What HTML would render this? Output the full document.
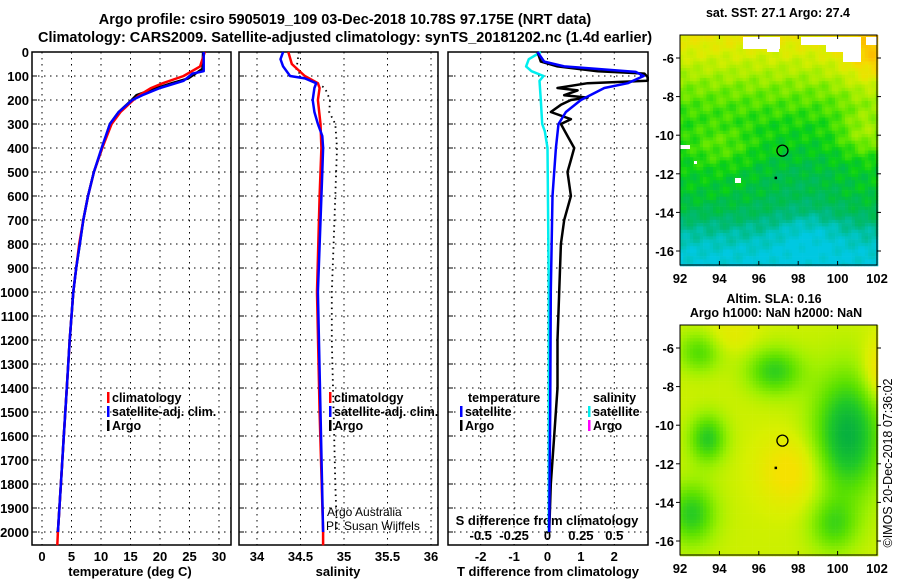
<!DOCTYPE html>
<html><head><meta charset="utf-8"><style>
body{margin:0;background:#fff;width:900px;height:580px;overflow:hidden}
svg{display:block;font-family:"Liberation Sans",sans-serif;font-weight:bold}
</style></head><body>
<svg id="c" width="900" height="580" viewBox="0 0 900 580">
<text x="345" y="24" font-size="14.5" text-anchor="middle">Argo profile: csiro 5905019_109 03-Dec-2018 10.78S 97.175E (NRT data)</text>
<text x="345" y="42" font-size="14.5" text-anchor="middle">Climatology: CARS2009. Satellite-adjusted climatology: synTS_20181202.nc (1.4d earlier)</text>
<g id="g"></g>
</svg>
<script>
// ---- data ----
const depthTicks=[0,100,200,300,400,500,600,700,800,900,1000,1100,1200,1300,1400,1500,1600,1700,1800,1900,2000];
const tempTicks=[0,5,10,15,20,25,30];
const salTicks=[34,34.5,35,35.5,36];
const salTickLabels=["34","34.5","35","35.5","36"];
const tdTicks=[-2,-1,0,1,2];
const sdTicks=[-0.5,-0.25,0,0.25,0.5];
const sdTickLabels=["-0.5","-0.25","0","0.25","0.5"];
const tClimDepth=[0,60,100,130,150,180,200,250,300,400,500,600,700,800,900,1000,1200,1400,1600,1800,2000,2055];
const tClim=[27.6,26.8,24,20.5,18.5,16.5,15.5,13.3,11.8,10.2,8.8,7.8,7,6.3,5.8,5.3,4.7,4.2,3.7,3.2,2.7,2.6];
const tSatDepth=[0,80,90,120,150,180,200,250,300,400,500,600,700,800,900,1000,1200,1400,1600,1800,2000];
const tSat=[27.4,27.4,25.5,24,20,17,15.3,13,11.5,10.1,8.8,7.8,7,6.4,5.8,5.3,4.7,4.2,3.7,3.2,2.7];
const tArgoDepth=[0,70,90,110,130,150,180,200,250,300,400,500,600,700,800,900,1000,1200,1400,1600,1800,2000];
const tArgo=[27.3,27.2,26,24.8,22,19.5,16,15.2,13,11.5,10.2,8.8,7.8,7,6.4,5.8,5.3,4.7,4.2,3.7,3.2,2.7];
const sClimDepth=[0,50,100,130,150,200,300,400,600,1000,1500,2000,2055];
const sClim=[34.36,34.4,34.55,34.7,34.72,34.7,34.73,34.74,34.72,34.69,34.72,34.76,34.76];
const sSatDepth=[0,30,60,100,110,130,150,200,250,300,350,400,500,1000,1500,2000];
const sSat=[34.3,34.27,34.3,34.38,34.55,34.68,34.66,34.64,34.66,34.7,34.75,34.76,34.75,34.7,34.73,34.76];
const sArgoDepth=[0,80,110,150,200,250,300,400,600,800,1000,1200,1500,1800,2000];
const sArgo=[34.48,34.45,34.6,34.78,34.84,34.83,34.9,34.92,34.9,34.88,34.86,34.86,34.88,34.9,34.92];
const dtSatDepth=[0,40,60,83,100,130,150,200,250,300,400,600,1000,1500,2000];
const dtSat=[-0.3,-0.1,0.5,2.64,2.88,2.4,1.7,1.0,0.55,0.33,0.25,0.15,0.1,0.08,0.05];
const dtArgoDepth=[0,40,60,80,90,105,120,130,150,160,180,190,200,220,250,280,300,350,400,450,500,600,700,800,1000,1200,1400,1600,1800,2000];
const dtArgo=[-0.3,-0.2,0.3,1.5,2.9,3.0,3.0,1.2,0.3,0.9,0.5,1.2,0.7,0.4,0.1,0.7,0.4,0.6,0.8,0.7,0.6,0.7,0.5,0.4,0.35,0.3,0.3,0.2,0.1,0.05];
const dsSatDepth=[0,30,60,80,100,120,200,300,330,400,1000,2000];
const dsSat=[-0.05,-0.14,-0.16,-0.12,-0.03,-0.06,-0.05,-0.04,-0.02,0.0,0.01,0.01];
const lonTicks=[92,94,96,98,100,102];
const latTicks=[-6,-8,-10,-12,-14,-16];

// ---- helpers ----
const NS="http://www.w3.org/2000/svg";
const G=document.getElementById('g');
function el(t,a,p){const e=document.createElementNS(NS,t);for(const k in a)e.setAttribute(k,a[k]);(p||G).appendChild(e);return e;}
const top0=52,bot=545;
const yD=d=>top0+d*0.24;
const xT=v=>42+v*5.9;
const xS=v=>257+(v-34)*87;
const xDT=v=>547.5+v*33.4;
const xDS=v=>547.5+v*133.6;
const panels=[[32,231],[239,438],[448,648]];

panels.forEach((p,i)=>{
  const fr=el('rect',{x:p[0],y:top0,width:p[1]-p[0],height:bot-top0,fill:'none',stroke:'#000','stroke-width':1.5});
  
  
  depthTicks.forEach(d=>{
    if(d===0)return;
    const l=el('line',{x1:p[0],x2:p[1],y1:yD(d),y2:yD(d),stroke:'#000','stroke-dasharray':'1.5 4.5','stroke-width':1});
    
    
    el('line',{x1:p[0],x2:p[0]+5,y1:yD(d),y2:yD(d),stroke:'#000'});
  });
});
depthTicks.forEach(d=>{
  const t=el('text',{x:29,y:yD(d)+5,'font-size':13,'text-anchor':'end'});t.textContent=d;
  
  
});
function vgrid(ticks,xf){ticks.forEach(v=>{const l=el('line',{x1:xf(v),x2:xf(v),y1:top0,y2:bot,stroke:'#000','stroke-dasharray':'1.5 4.5'});
  
  });}
vgrid(tempTicks,xT);vgrid(salTicks,xS);vgrid(tdTicks,xDT);
function xlabels(ticks,labels,xf,y,name){ticks.forEach((v,i)=>{const t=el('text',{x:xf(v),y:y,'font-size':13,'text-anchor':'middle'});t.textContent=labels?labels[i]:v;
  
  });}
xlabels(tempTicks,null,xT,561,'temperature-tick-label');
xlabels(salTicks,salTickLabels,xS,561,'salinity-tick-label');
xlabels(tdTicks,null,xDT,561,'t-diff-tick-label');
xlabels(sdTicks,sdTickLabels,xDS,540,'s-diff-tick-label');
function txt(x,y,s,size,name,anchor,weight){const t=el('text',{x:x,y:y,'font-size':size,'text-anchor':anchor||'start','font-weight':weight||'bold'});t.textContent=s;
  
  return t;}
txt(130,576,'temperature (deg C)',13,'temperature-axis-title','middle');
txt(338,576,'salinity',13,'salinity-axis-title','middle');
txt(548,576,'T difference from climatology',13,'t-diff-axis-title','middle');
txt(547,525,'S difference from climatology',13,'s-diff-axis-title','middle');

function line(ds,vs,xf,color,name,dash,w){
  const pts=ds.map((d,i)=>xf(vs[i]).toFixed(1)+','+yD(d).toFixed(1)).join(' ');
  const l=el('polyline',{points:pts,fill:'none',stroke:color,'stroke-width':w||2.5,'stroke-linejoin':'round'});
  if(dash)l.setAttribute('stroke-dasharray',dash);
  
  
}
line(tArgoDepth,tArgo,xT,'#000','temperature-argo-line');
line(tClimDepth,tClim,xT,'#f00','temperature-climatology-line');
line(tSatDepth,tSat,xT,'#00f','temperature-satellite-line');
line(sArgoDepth,sArgo,xS,'#000','salinity-argo-line','1.5 4',1.8);
line(sClimDepth,sClim,xS,'#f00','salinity-climatology-line');
line(sSatDepth,sSat,xS,'#00f','salinity-satellite-line');
line(dsSatDepth,dsSat,xDS,'#0ee','s-diff-satellite-line');
line(dtArgoDepth,dtArgo,xDT,'#000','t-diff-argo-line');
line(dtSatDepth,dtSat,xDT,'#00f','t-diff-satellite-line');

function legendEntry(x,y,color,label,name){
  const m=el('rect',{x:x,y:y-10,width:2.5,height:11,fill:color});
  
  
  txt(x+5,y,label,12.5,name);
}
legendEntry(107,402,'#f00','climatology','legend-climatology');
legendEntry(107,416,'#00f','satellite-adj. clim.','legend-satellite-adj');
legendEntry(107,430,'#000','Argo','legend-argo');
legendEntry(329,402,'#f00','climatology','legend-s-climatology');
legendEntry(329,416,'#00f','satellite-adj. clim.','legend-s-satellite-adj');
legendEntry(329,430,'#000','Argo','legend-s-argo');
txt(468,402,'temperature',12.5,'legend-temperature-heading');
legendEntry(460,416,'#00f','satellite','legend-t-satellite');
legendEntry(460,430,'#000','Argo','legend-t-argo');
txt(593,402,'salinity',12.5,'legend-salinity-heading');
legendEntry(588,416,'#0ee','satellite','legend-s-satellite');
legendEntry(588,430,'#f0f','Argo','legend-s-argo-diff');
txt(327,516,'Argo Australia',12,'credit-argo-australia','start','normal');
txt(326,530,'PI: Susan Wijffels',12,'credit-pi','start','normal');

// ---- maps ----
const mapX0=680,mapX1=877;
const lonX=l=>680+(l-92)*19.7;
const gs=(lon,lat,l0,a0,sl,sa)=>Math.exp(-((lon-l0)**2/sl+(lat-a0)**2/sa));
function latBase(lat){
  const k=[[-4.5,0.77],[-5.5,0.72],[-6.5,0.64],[-7.5,0.56],[-8.5,0.5],[-9.5,0.45],[-11,0.43],[-13,0.41],[-14,0.36],[-15,0.26],[-16,0.18],[-17,0.15]];
  for(let i=1;i<k.length;i++){if(lat>=k[i][0]){const t=(lat-k[i-1][0])/(k[i][0]-k[i-1][0]);return k[i-1][1]+(k[i][1]-k[i-1][1])*t;}}
  return 0.15;
}
function sstField(lon,lat){
  let v=latBase(lat);
  v+=0.18*gs(lon,lat,102,-6,3,4);
  v+=0.15*gs(lon,lat,101.5,-9.8,2,1.5);
  v-=0.05*gs(lon,lat,98,-12.5,6,3);
  v+=0.08*gs(lon,lat,94,-10.5,3,1.5);
  v-=0.08*gs(lon,lat,98.5,-15,3,1.5);
  v+=((Math.sin(lon*7.3+lat*3.1)+Math.sin(lon*2.9-lat*6.7))*0.02);
  return v;
}
function slaField(lon,lat){
  let v=0.7;
  v-=0.42*gs(lon,lat,100.5,-10.5,3,10);
  v-=0.3*gs(lon,lat,93.4,-10.7,0.9,1.6);
  v-=0.28*gs(lon,lat,96.8,-7.2,2,1.5);
  v-=0.3*gs(lon,lat,92.6,-14.6,1.5,2.5);
  v-=0.22*gs(lon,lat,99.8,-15.2,1.5,2);
  v-=0.22*gs(lon,lat,93,-6.2,1.2,1.2);
  v+=0.18*gs(lon,lat,97.6,-12.4,2.5,3);
  v+=0.2*gs(lon,lat,102.2,-7.2,0.8,2.5);
  v+=0.08*gs(lon,lat,94.5,-5.3,2,1);
  return v;
}
function sstColor(v){
  const s=[[0.15,[0,200,225]],[0.22,[0,195,185]],[0.3,[0,185,120]],[0.38,[0,190,70]],[0.44,[10,210,20]],[0.52,[90,230,0]],[0.6,[160,238,0]],[0.7,[215,238,0]],[0.8,[245,220,0]],[0.95,[255,175,0]]];
  return interp(s,v);
}
function slaColor(v){
  const s=[[0.25,[0,170,70]],[0.38,[30,200,40]],[0.5,[90,225,0]],[0.62,[160,240,0]],[0.72,[215,240,0]],[0.85,[245,225,0]]];
  return interp(s,v);
}
function interp(s,v){
  if(v<=s[0][0])return 'rgb('+s[0][1]+')';
  for(let i=1;i<s.length;i++){if(v<=s[i][0]){const t=(v-s[i-1][0])/(s[i][0]-s[i-1][0]);
    const c=s[i-1][1].map((a,k)=>Math.round(a+(s[i][1][k]-a)*t));return 'rgb('+c+')';}}
  return 'rgb('+s[s.length-1][1]+')';
}
function drawMap(y0,latY,field,cmap,name,whites){
  const g=el('g',{});
  
  
  const step=3.3;
  for(let x=mapX0;x<mapX1;x+=step)for(let y=y0;y<y0+230;y+=step){
    const lon=92+(x+step/2-680)/19.7, lat=-6-(y+step/2-latY)/19.3;
    el('rect',{x:x.toFixed(1),y:y.toFixed(1),width:step+0.3,height:step+0.3,fill:cmap(field(lon,lat))},g);
  }
  (whites||[]).forEach(w=>el('rect',{x:w[0],y:w[1],width:w[2],height:w[3],fill:'#fff'},g));
  el('rect',{x:mapX0,y:y0,width:mapX1-mapX0,height:230,fill:'none',stroke:'#000','stroke-width':1});
  lonTicks.forEach(l=>{el('line',{x1:lonX(l),x2:lonX(l),y1:y0+230,y2:y0+226,stroke:'#000'});el('line',{x1:lonX(l),x2:lonX(l),y1:y0,y2:y0+4,stroke:'#000'});
    txt(lonX(l),y0+248,String(l),13,'map-lon-label','middle');});
  latTicks.forEach(l=>{const y=latY+(-6-l)*19.3;el('line',{x1:mapX0-4,x2:mapX0,y1:y,y2:y,stroke:'#000'});el('line',{x1:mapX1,x2:mapX1+4,y1:y,y2:y,stroke:'#000'});
    txt(mapX0-6,y+5,String(l),13,'map-lat-label','end');});
  const c=el('circle',{cx:lonX(97.2),cy:latY+(10.8-6)*19.3,r:5.5,fill:'none',stroke:'#000','stroke-width':1.3});
  
  
  el('rect',{x:lonX(96.8),y:latY+(12.2-6)*19.3-1,width:2.5,height:2.5,fill:'#000'});
}
drawMap(35,58,sstField,sstColor,'sst-map',[[743,37,37,12],[767,37,12,15],[801,37,25,8],[826,37,28,15],[843,37,18,25],[866,37,11,8],[680,145,10,4],[735,178,6,5],[694,161,3,3]]);
drawMap(325,348,slaField,slaColor,'sla-map');
txt(778,17,'sat. SST: 27.1 Argo: 27.4',12.5,'sst-map-title','middle');
txt(774,303,'Altim. SLA: 0.16',12.5,'sla-map-title','middle');
txt(776,317,'Argo h1000: NaN h2000: NaN',12.5,'sla-map-subtitle','middle');
const r=txt(0,0,'©IMOS 20-Dec-2018 07:36:02',12.5,'imos-timestamp','middle','normal');
r.setAttribute('transform','translate(892,463) rotate(-90)');
</script>
</body></html>
